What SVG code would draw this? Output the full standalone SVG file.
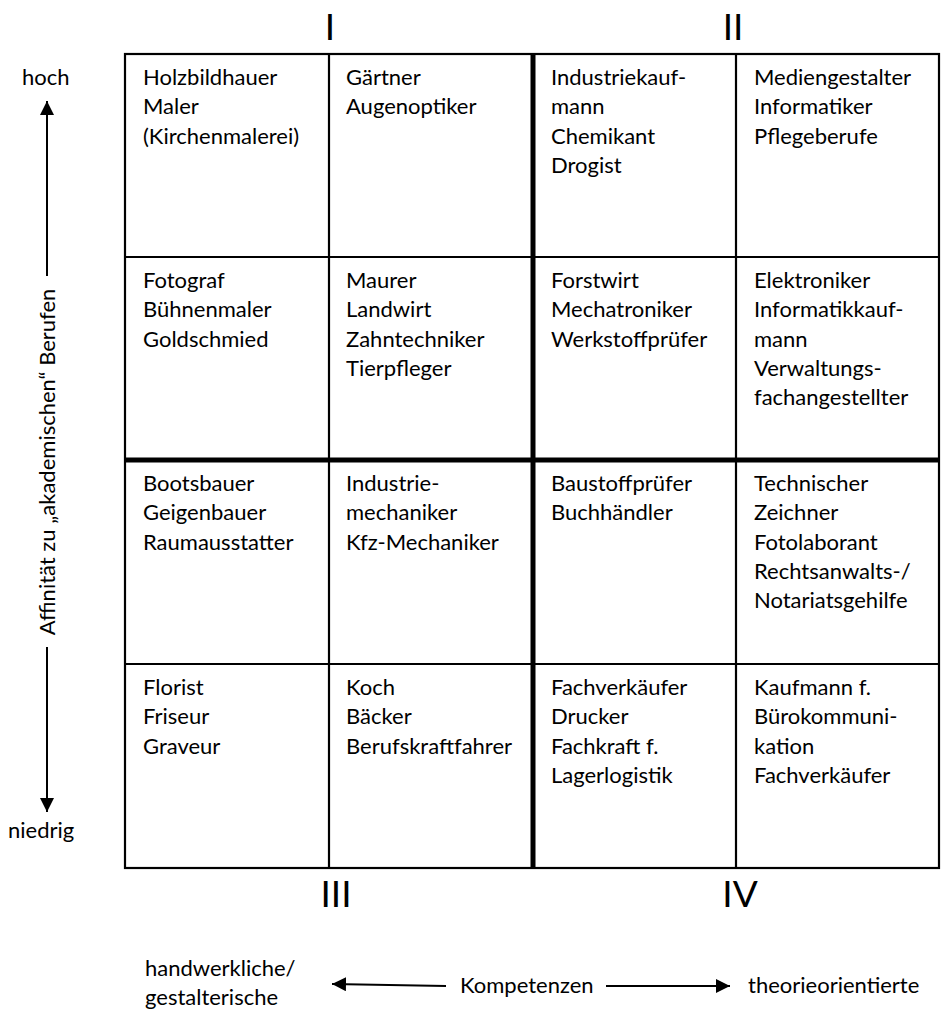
<svg xmlns="http://www.w3.org/2000/svg" width="944" height="1012" viewBox="0 0 944 1012">
  <style>
    text { font-family: Lato, "Open Sans", "Liberation Sans", sans-serif; fill: #000; }
    .cell { font-size: 22px; }
    .axis { font-size: 22px; }
    .quad { font-size: 37px; text-anchor: middle; }
    .thin { stroke: #000; stroke-width: 2.2; fill: none; }
    .thick { stroke: #000; stroke-width: 5; fill: none; }
    .arrow { stroke: #000; stroke-width: 2; fill: none; }
  </style>
  <defs>
    <marker id="head" viewBox="0 0 10 10" refX="10" refY="5" markerWidth="7" markerHeight="7" markerUnits="strokeWidth" orient="auto">
      <path d="M0,0 L10,5 L0,10 Z" fill="#000"/>
    </marker>
  </defs>

  <rect width="944" height="1012" fill="#fff"/>

  <!-- quadrant numerals -->
  <g id="quadrants">
    <text class="quad" x="330" y="40">I</text>
    <text class="quad" x="733" y="40">II</text>
    <text class="quad" x="336" y="907">III</text>
    <text class="quad" x="740" y="907">IV</text>
  </g>

  <!-- grid of the 4x4 matrix -->
  <g id="grid">
    <rect class="thin" x="125" y="54" width="814" height="814"/>
    <line class="thin" x1="329" y1="54" x2="329" y2="868"/>
    <line class="thin" x1="736" y1="54" x2="736" y2="868"/>
    <line class="thin" x1="125" y1="257" x2="939" y2="257"/>
    <line class="thin" x1="125" y1="664" x2="939" y2="664"/>
    <line class="thick" x1="533" y1="54" x2="533" y2="868"/>
    <line class="thick" x1="125" y1="460" x2="939" y2="460"/>
  </g>

  <!-- row 1 -->
  <g id="r1c1"><text class="cell"><tspan x="143" y="85">Holzbildhauer</tspan><tspan x="143" y="114.3">Maler</tspan><tspan x="143" y="143.6">(Kirchenmalerei)</tspan></text></g>
  <g id="r1c2"><text class="cell"><tspan x="346" y="85">Gärtner</tspan><tspan x="346" y="114.3">Augenoptiker</tspan></text></g>
  <g id="r1c3"><text class="cell"><tspan x="551" y="85">Industriekauf-</tspan><tspan x="551" y="114.3">mann</tspan><tspan x="551" y="143.6">Chemikant</tspan><tspan x="551" y="172.9">Drogist</tspan></text></g>
  <g id="r1c4"><text class="cell"><tspan x="754" y="85">Mediengestalter</tspan><tspan x="754" y="114.3">Informatiker</tspan><tspan x="754" y="143.6">Pflegeberufe</tspan></text></g>

  <!-- row 2 -->
  <g id="r2c1"><text class="cell"><tspan x="143" y="288">Fotograf</tspan><tspan x="143" y="317.3">Bühnenmaler</tspan><tspan x="143" y="346.6">Goldschmied</tspan></text></g>
  <g id="r2c2"><text class="cell"><tspan x="346" y="288">Maurer</tspan><tspan x="346" y="317.3">Landwirt</tspan><tspan x="346" y="346.6">Zahntechniker</tspan><tspan x="346" y="375.9">Tierpfleger</tspan></text></g>
  <g id="r2c3"><text class="cell"><tspan x="551" y="288">Forstwirt</tspan><tspan x="551" y="317.3">Mechatroniker</tspan><tspan x="551" y="346.6">Werkstoffprüfer</tspan></text></g>
  <g id="r2c4"><text class="cell"><tspan x="754" y="288">Elektroniker</tspan><tspan x="754" y="317.3">Informatikkauf-</tspan><tspan x="754" y="346.6">mann</tspan><tspan x="754" y="375.9">Verwaltungs-</tspan><tspan x="754" y="405.2">fachangestellter</tspan></text></g>

  <!-- row 3 -->
  <g id="r3c1"><text class="cell"><tspan x="143" y="491">Bootsbauer</tspan><tspan x="143" y="520.3">Geigenbauer</tspan><tspan x="143" y="549.6">Raumausstatter</tspan></text></g>
  <g id="r3c2"><text class="cell"><tspan x="346" y="491">Industrie-</tspan><tspan x="346" y="520.3">mechaniker</tspan><tspan x="346" y="549.6">Kfz-Mechaniker</tspan></text></g>
  <g id="r3c3"><text class="cell"><tspan x="551" y="491">Baustoffprüfer</tspan><tspan x="551" y="520.3">Buchhändler</tspan></text></g>
  <g id="r3c4"><text class="cell"><tspan x="754" y="491">Technischer</tspan><tspan x="754" y="520.3">Zeichner</tspan><tspan x="754" y="549.6">Fotolaborant</tspan><tspan x="754" y="578.9">Rechtsanwalts-/</tspan><tspan x="754" y="608.2">Notariatsgehilfe</tspan></text></g>

  <!-- row 4 -->
  <g id="r4c1"><text class="cell"><tspan x="143" y="695">Florist</tspan><tspan x="143" y="724.3">Friseur</tspan><tspan x="143" y="753.6">Graveur</tspan></text></g>
  <g id="r4c2"><text class="cell"><tspan x="346" y="695">Koch</tspan><tspan x="346" y="724.3">Bäcker</tspan><tspan x="346" y="753.6">Berufskraftfahrer</tspan></text></g>
  <g id="r4c3"><text class="cell"><tspan x="551" y="695">Fachverkäufer</tspan><tspan x="551" y="724.3">Drucker</tspan><tspan x="551" y="753.6">Fachkraft f.</tspan><tspan x="551" y="782.9">Lagerlogistik</tspan></text></g>
  <g id="r4c4"><text class="cell"><tspan x="754" y="695">Kaufmann f.</tspan><tspan x="754" y="724.3">Bürokommuni-</tspan><tspan x="754" y="753.6">kation</tspan><tspan x="754" y="782.9">Fachverkäufer</tspan></text></g>

  <!-- vertical axis -->
  <g id="axis-vertical">
    <text class="axis" x="22" y="85">hoch</text>
    <text class="axis" x="8" y="838">niedrig</text>
    <text class="axis" text-anchor="middle" transform="translate(55,462) rotate(-90)">Affinität zu „akademischen“ Berufen</text>
  </g>

  <!-- horizontal axis -->
  <g id="axis-horizontal">
    <text class="axis"><tspan x="145" y="976">handwerkliche/</tspan><tspan x="145" y="1005">gestalterische</tspan></text>
    <text class="axis" x="460" y="993">Kompetenzen</text>
    <text class="axis" x="748" y="993">theorieorientierte</text>
  </g>

  <!-- connectors -->
  <g id="connectors">
    <line class="arrow" x1="47" y1="276" x2="47" y2="101" marker-end="url(#head)"/>
    <line class="arrow" x1="47" y1="647" x2="47" y2="812" marker-end="url(#head)"/>
    <line class="arrow" x1="446" y1="986" x2="332" y2="984" marker-end="url(#head)"/>
    <line class="arrow" x1="606" y1="986" x2="730" y2="986" marker-end="url(#head)"/>
  </g>
</svg>
